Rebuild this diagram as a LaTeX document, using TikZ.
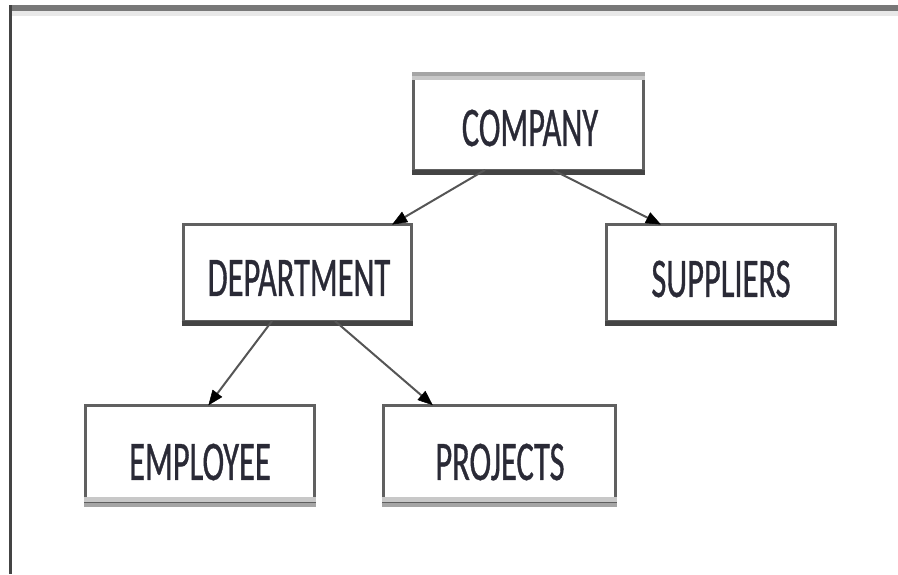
\documentclass[tikz,border=0pt]{standalone}
\usepackage{fontspec}
\setmainfont[FakeStretch=0.58,FakeBold=0.6]{Carlito}
\usetikzlibrary{arrows.meta,calc}
\definecolor{boxline}{HTML}{606060}
\definecolor{boxdark}{HTML}{444444}
\definecolor{boxlight}{HTML}{A5A5A5}
\definecolor{boxshade}{HTML}{C8C8C8}
\definecolor{txt}{HTML}{2A2A36}
\definecolor{conn}{HTML}{555555}
\tikzset{
  entity/.style={draw=boxline, line width=3pt, fill=white, inner sep=0pt, rectangle},
  lbl/.style={inner sep=0pt, text=txt, font=\fontsize{56}{60}\selectfont},
  link/.style={draw=conn, line width=2pt, -{Triangle[length=15pt,width=12pt,color=black,fill=black,line width=0.5pt]}, shorten >=-1pt},
}
\begin{document}
\begin{tikzpicture}[x=1pt,y=-1pt]
\useasboundingbox (0,0) rectangle (898,574);
% frame
\fill[black!53] (9,5) rectangle (898,11);
\fill[black!9] (12,11) rectangle (898,16);
\fill[boxdark] (9,5) rectangle (12,574);
% boxes
\node[entity, minimum width=230pt, minimum height=95pt] (company) at (528.5,123) {};
\node[entity, minimum width=228pt, minimum height=97pt] (department) at (297,273) {};
\node[entity, minimum width=229pt, minimum height=97pt] (suppliers) at (721,273) {};
\node[entity, minimum width=229pt, minimum height=98pt] (employee) at (200,454) {};
\node[entity, minimum width=232pt, minimum height=98pt] (projects) at (499,454) {};
% edge shading
\draw[boxshade, line width=5pt] ([yshift=-3pt]company.north west) -- ([yshift=-3pt]company.north east);
\draw[boxlight, line width=4pt] (company.north west) -- (company.north east);
\draw[boxdark, line width=5pt] (company.south west) -- (company.south east);
\draw[boxdark, line width=5pt] (department.south west) -- (department.south east);
\draw[boxdark, line width=5pt] (suppliers.south west) -- (suppliers.south east);
\foreach \n in {employee,projects}{
  \draw[boxshade, line width=5pt] ([yshift=5pt]\n.south west) -- ([yshift=5pt]\n.south east);
  \draw[boxlight, line width=4pt] (\n.south west) -- (\n.south east);
}
% labels
\node[lbl] (tcompany) at (530,128) {COMPANY};
\node[lbl] (tdepartment) at (299,278) {DEPARTMENT};
\node[lbl] (tsuppliers) at (721,279) {SUPPLIERS};
\node[lbl] (temployee) at (200,462) {EMPLOYEE};
\node[lbl] (tprojects) at (500,462) {PROJECTS};
% connectors
\draw[link] ([xshift=-43.5pt,yshift=2pt]company.south) -- ([xshift=96pt,yshift=-1pt]department.north);
\draw[link] ([xshift=24.5pt,yshift=2pt]company.south) -- ([xshift=-61pt,yshift=-1pt]suppliers.north);
\draw[link] ([xshift=-25pt,yshift=2pt]department.south) -- ([xshift=9pt,yshift=-1pt]employee.north);
\draw[link] ([xshift=38pt,yshift=2pt]department.south) -- ([xshift=-67pt,yshift=-1pt]projects.north);
\end{tikzpicture}
\end{document}
